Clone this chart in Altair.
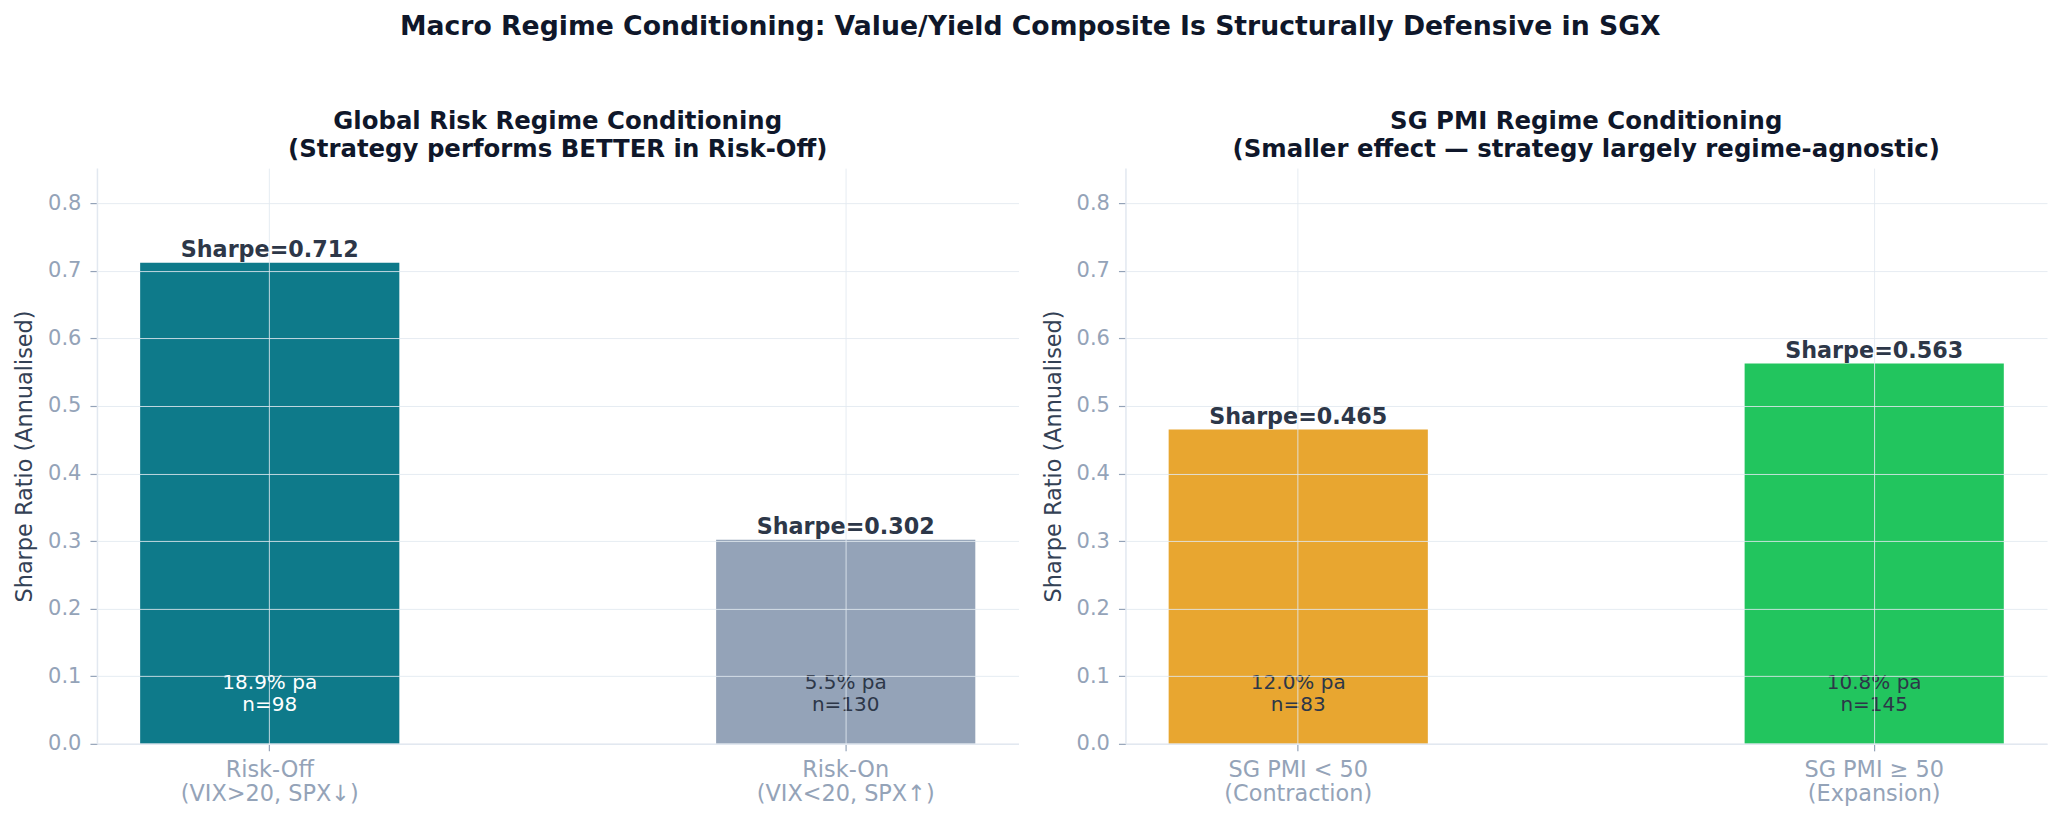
import altair as alt
import pandas as pd

# ---- data ----
left_labels = ["Risk-Off\n(VIX>20, SPX↓)", "Risk-On\n(VIX<20, SPX↑)"]
left_sharpe = [0.712, 0.302]
left_ret = ["18.9% pa", "5.5% pa"]
left_n = [98, 130]
left_colors = ["#0e7a8a", "#94a3b8"]
left_text_colors = ["#ffffff", "#2d3748"]

right_labels = ["SG PMI < 50\n(Contraction)", "SG PMI ≥ 50\n(Expansion)"]
right_sharpe = [0.465, 0.563]
right_ret = ["12.0% pa", "10.8% pa"]
right_n = [83, 145]
right_colors = ["#e8a630", "#22c55e"]
right_text_colors = ["#2d3748", "#2d3748"]

suptitle = "Macro Regime Conditioning: Value/Yield Composite Is Structurally Defensive in SGX"
left_title = ["Global Risk Regime Conditioning", "(Strategy performs BETTER in Risk-Off)"]
right_title = ["SG PMI Regime Conditioning", "(Smaller effect — strategy largely regime-agnostic)"]
y_title = "Sharpe Ratio (Annualised)"
y_ticks = [0.0, 0.1, 0.2, 0.3, 0.4, 0.5, 0.6, 0.7, 0.8]
y_max = 0.852

FONT = "DejaVu Sans"
W, H = 922, 576


def make_df(labels, sharpe, ret, n, colors, tcolors):
    return pd.DataFrame({
        "label": labels,
        "sharpe": sharpe,
        "sharpe_txt": [f"Sharpe={v:.3f}" for v in sharpe],
        "inner": [f"{r}\nn={k}" for r, k in zip(ret, n)],
        "color": colors,
        "tcolor": tcolors,
    })


def panel(df, title):
    order = list(df["label"])
    x = alt.X(
        "label:N",
        sort=order,
        scale=alt.Scale(paddingInner=0.55, paddingOuter=0.075),
        axis=alt.Axis(
            title=None,
            labelAngle=0,
            labelExpr="split(datum.label, '\\n')",
            labelLineHeight=24,
            labelPadding=8,
            labelFontSize=22.4,
            grid=True,
            zindex=1,
        ),
    )
    y = alt.Y(
        "sharpe:Q",
        scale=alt.Scale(domain=[0, y_max], nice=False, zero=True),
        axis=alt.Axis(
            title=y_title,
            values=y_ticks,
            format=".1f",
            grid=True,
            zindex=1,
            titlePadding=11,
            labelPadding=9,
        ),
    )
    base = alt.Chart(df)
    bars = base.mark_bar().encode(x=x, y=y, color=alt.Color("color:N", scale=None))
    top_txt = base.mark_text(
        baseline="bottom", dy=-0.5, fontWeight="bold", fontSize=22.3, font=FONT, color="#2d3748"
    ).encode(x=alt.X("label:N", sort=order), y="sharpe:Q", text="sharpe_txt:N")
    inner_txt = base.mark_text(
        baseline="middle", fontSize=20, font=FONT, lineBreak="\n", lineHeight=22
    ).encode(
        x=alt.X("label:N", sort=order),
        y=alt.Y(datum=0.09),
        text="inner:N",
        color=alt.Color("tcolor:N", scale=None),
    )
    return alt.layer(bars, top_txt, inner_txt).properties(
        width=W,
        height=H,
        title=alt.TitleParams(
            text=title,
            fontSize=24.4,
            fontWeight="bold",
            color="#0f172a",
            font=FONT,
            lineHeight=28,
            offset=6,
            anchor="middle",
        ),
    )


left = panel(make_df(left_labels, left_sharpe, left_ret, left_n, left_colors, left_text_colors), left_title)
right = panel(make_df(right_labels, right_sharpe, right_ret, right_n, right_colors, right_text_colors), right_title)

chart = (
    alt.hconcat(left, right, spacing=23)
    .properties(
        title=alt.TitleParams(
            text=suptitle,
            fontSize=26.7,
            fontWeight="bold",
            color="#0f172a",
            font=FONT,
            anchor="middle",
            offset=68,
        ),
        padding={"left": 13, "right": 14, "top": 13, "bottom": 5},
        background="white",
    )
    .configure_view(stroke=None)
    .configure_axis(
        labelFont=FONT,
        labelFontSize=21,
        labelColor="#94a3b8",
        titleFont=FONT,
        titleFontSize=22.4,
        titleFontWeight="normal",
        titleColor="#334155",
        domainColor="#e2e8f0",
        domainWidth=1.5,
        tickColor="#94a3b8",
        tickSize=7,
        tickWidth=1.2,
        gridColor="#e2e8f0",
        gridWidth=1,
        gridOpacity=0.85,
    )
)

chart.save("out.html", embed_options={"renderer": "svg", "actions": False})
